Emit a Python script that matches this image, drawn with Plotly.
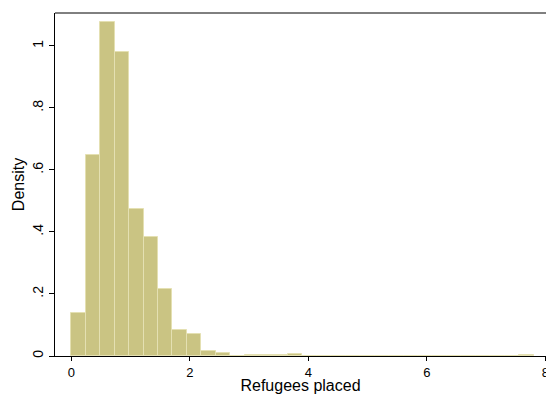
import plotly.graph_objects as go

bin_width = 0.24375
n_bins = 32
density = [0.140, 0.648, 1.078, 0.980, 0.473, 0.383, 0.217, 0.083,
           0.072, 0.016, 0.011, 0.0, 0.004, 0.002, 0.004, 0.007,
           0, 0, 0, 0, 0, 0, 0, 0,
           0, 0, 0, 0, 0, 0, 0, 0.004]
centers = [bin_width * (i + 0.5) for i in range(n_bins)]

y_ticks = [0, 0.2, 0.4, 0.6, 0.8, 1.0]
y_labels = ["0", ".2", ".4", ".6", ".8", "1"]
x_ticks = [0, 2, 4, 6, 8]
x_labels = ["0", "2", "4", "6", "8"]

fig = go.Figure(go.Bar(
    x=centers, y=density, width=bin_width,
    marker=dict(color="rgb(202,196,131)", line=dict(color="rgb(228,224,178)", width=1)),
))

font = "Liberation Sans, Arial, sans-serif"
fig.update_layout(
    width=546, height=394,
    margin=dict(l=55, r=0, t=13, b=38),
    paper_bgcolor="white", plot_bgcolor="white",
    bargap=0, showlegend=False,
    font=dict(family=font, size=14, color="black"),
    shapes=[dict(type="line", xref="paper", yref="paper", x0=0, x1=1, y0=1, y1=1,
                 line=dict(color="black", width=1))],
)
fig.update_xaxes(
    range=[-0.275, 8.01], tickvals=x_ticks, ticktext=x_labels,
    ticks="outside", ticklen=4, tickcolor="black", tickfont=dict(size=13),
    ticklabeloverflow="allow", automargin=False,
    showline=True, linecolor="black", linewidth=1,
    showgrid=False, zeroline=False,
    title=dict(text="Refugees placed", font=dict(size=16), standoff=5),
)
fig.update_yaxes(
    range=[0, 1.106], tickvals=y_ticks, ticktext=y_labels, tickangle=-90,
    ticks="outside", ticklen=5, tickcolor="black", tickfont=dict(size=14),
    showline=True, linecolor="black", linewidth=1, automargin=False,
    showgrid=False, zeroline=False,
    title=dict(text="Density", font=dict(size=16), standoff=1),
)
fig.write_html("out.html")
